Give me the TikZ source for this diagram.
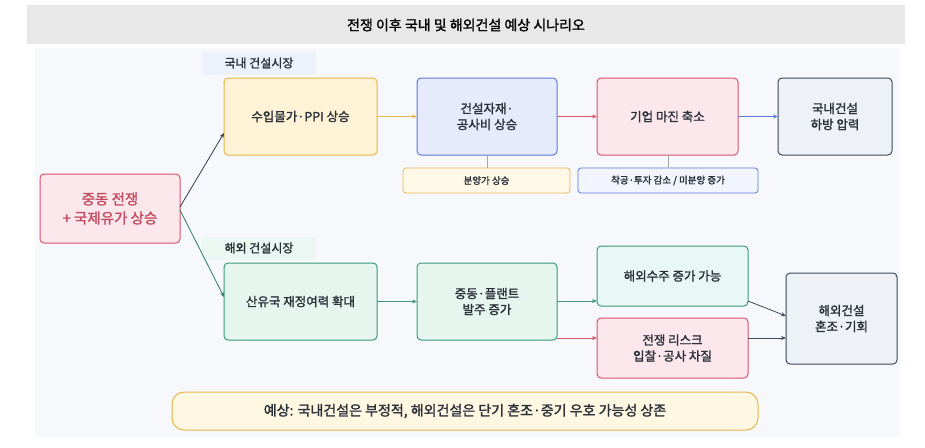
\documentclass[tikz,border=0pt]{standalone}
\usepackage{fontspec}
\setmainfont{Noto Sans CJK KR}[BoldFont={Noto Sans CJK KR},BoldFeatures={FakeBold=1.6}]
\usetikzlibrary{arrows.meta}
\definecolor{redB}{HTML}{D9536B}\definecolor{redF}{HTML}{FCE8EC}
\definecolor{yelB}{HTML}{E8B64A}\definecolor{yelF}{HTML}{FEF3D6}
\definecolor{bluB}{HTML}{5C79D6}\definecolor{bluF}{HTML}{E6EBFB}
\definecolor{grnB}{HTML}{3A9A78}\definecolor{grnF}{HTML}{E6F6EE}
\definecolor{tealF}{HTML}{E8F8F4}
\definecolor{gryB}{HTML}{3F4A5A}\definecolor{gryF}{HTML}{EEF1F6}
\definecolor{panel}{HTML}{F6F8FC}
\definecolor{txt}{HTML}{2A2F38}
\begin{document}
\begin{tikzpicture}[x=1pt,y=-1pt,every node/.style={text=txt},
 box/.style={rounded corners=4pt,line width=1pt,align=center,font=\bfseries\fontsize{12.5}{16}\selectfont},
 tag/.style={rounded corners=3pt,line width=0.8pt,font=\bfseries\fontsize{9.5}{12}\selectfont},
 arr/.style={-{Stealth[length=5pt,width=4pt]},line width=0.8pt}]
\useasboundingbox (0,0) rectangle (925,447);
\fill[panel] (35,48) rectangle (900,437);
\fill[gray!18] (27,5) rectangle (905,44);
\node[font=\bfseries\fontsize{14}{16}\selectfont,text=black] (title) at (466,25) {전쟁 이후 국내 및 해외건설 예상 시나리오};
\node[fill=bluF!70,font=\bfseries\fontsize{12}{14}\selectfont,minimum width=114pt,minimum height=23pt] (dom) at (259,63) {국내 건설시장};
\node[fill=grnF!80,font=\bfseries\fontsize{12}{14}\selectfont,minimum width=114pt,minimum height=23pt] (ovs) at (259,248) {해외 건설시장};
\draw[box,draw=redB,fill=redF] (40,174) rectangle (180,243);
\node[text=redB!90!black,align=center,font=\bfseries\fontsize{14.5}{19}\selectfont] (A) at (110,208.5) {중동 전쟁\\+ 국제유가 상승};
\draw[box,draw=yelB,fill=yelF] (224,78) rectangle (377,155) node[midway] (B) {수입물가·PPI 상승};
\draw[box,draw=bluB,fill=bluF] (417,78) rectangle (557,155) node[midway] (C) {건설자재·\\공사비 상승};
\draw[box,draw=redB,fill=redF] (597,78) rectangle (738,155) node[midway] (D) {기업 마진 축소};
\draw[box,draw=gryB,fill=gryF] (778,78) rectangle (892,155) node[midway] (E) {국내건설\\하방 압력};
\draw[tag,draw=yelB,fill=yelF!60] (403,168) rectangle (570,193) node[midway] (t1) {분양가 상승};
\draw[tag,draw=bluB,fill=bluF!50] (578,168) rectangle (758,193) node[midway] (t2) {착공·투자 감소 / 미분양 증가};
\draw[box,draw=grnB,fill=grnF] (224,263) rectangle (377,340) node[midway] (F) {산유국 재정여력 확대};
\draw[box,draw=grnB,fill=grnF] (417,263) rectangle (557,340) node[midway] (G) {중동·플랜트\\발주 증가};
\draw[box,draw=grnB,fill=tealF] (597,246) rectangle (748,306) node[midway] (H) {해외수주 증가 가능};
\draw[box,draw=redB,fill=redF] (597,318) rectangle (748,378) node[midway] (I) {전쟁 리스크\\입찰·공사 차질};
\draw[box,draw=gryB,fill=gryF] (786,273) rectangle (897,364) node[midway] (J) {해외건설\\혼조·기회};
\draw[rounded corners=12pt,line width=1pt,draw=yelB,fill=yelF!70] (172,392) rectangle (758,430) node[midway,font=\bfseries\fontsize{14}{17}\selectfont] (S) {예상: 국내건설은 부정적, 해외건설은 단기 혼조·중기 우호 가능성 상존};
\coordinate (a1) at (180,207); \coordinate (b1) at (224,133);
\coordinate (a2) at (180,210); \coordinate (f1) at (224,297);
\draw[arr,gryB!80!black] (a1) -- (b1);
\draw[arr,grnB!80!black] (a2) -- (f1);
\draw[arr,yelB] (377,116.5) -- (417,116.5);
\draw[arr,redB] (557,116.5) -- (597,116.5);
\draw[arr,bluB] (738,116.5) -- (778,116.5);
\draw[gray!70,line width=0.8pt] (487,155) -- (487,168);
\draw[gray!70,line width=0.8pt] (668,155) -- (668,168);
\draw[arr,grnB] (377,301.5) -- (417,301.5);
\draw[arr,grnB] (557,301) -- (597,301);
\draw[arr,redB] (557,338) -- (597,338);
\draw[arr,gryB] (748,301) -- (786,316);
\draw[arr,gryB] (748,338) -- (786,338);
\end{tikzpicture}
\end{document}
